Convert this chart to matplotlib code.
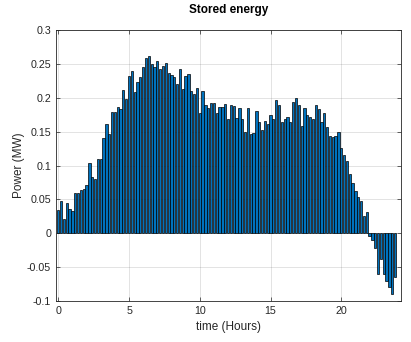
import numpy as np
import matplotlib
matplotlib.use('Agg')
import matplotlib.pyplot as plt

# stored energy, one bar every 0.2 h
hours = np.arange(120) * 0.2
power = [0.034, 0.047, 0.0205, 0.045, 0.0365, 0.033, 0.059, 0.059, 0.064, 0.065,
         0.071, 0.104, 0.0835, 0.0795, 0.109, 0.109, 0.140, 0.161, 0.147, 0.179,
         0.179, 0.186, 0.183, 0.211, 0.198, 0.232, 0.240, 0.208, 0.223, 0.231,
         0.246, 0.258, 0.261, 0.250, 0.245, 0.254, 0.242, 0.247, 0.252, 0.237,
         0.234, 0.230, 0.221, 0.243, 0.213, 0.232, 0.235, 0.210, 0.206, 0.215,
         0.178, 0.210, 0.189, 0.185, 0.192, 0.192, 0.178, 0.186, 0.186, 0.191,
         0.168, 0.189, 0.188, 0.170, 0.185, 0.169, 0.150, 0.185, 0.147, 0.148,
         0.180, 0.164, 0.152, 0.165, 0.161, 0.175, 0.169, 0.196, 0.190, 0.164,
         0.168, 0.171, 0.164, 0.194, 0.200, 0.190, 0.159, 0.185, 0.175, 0.171,
         0.169, 0.189, 0.184, 0.164, 0.177, 0.157, 0.144, 0.142, 0.143, 0.150,
         0.126, 0.115, 0.106, 0.087, 0.074, 0.062, 0.054, 0.047, 0.0255, 0.032,
         -0.004, -0.010, -0.022, -0.060, -0.038, -0.060, -0.071, -0.079, -0.089, -0.064]

xticks = [0, 5, 10, 15, 20]
yticks = [-0.1, -0.05, 0, 0.05, 0.1, 0.15, 0.2, 0.25, 0.3]
ytick_labels = ['-0.1', '-0.05', '0', '0.05', '0.1', '0.15', '0.2', '0.25', '0.3']

plt.rcParams['font.family'] = ['Liberation Sans', 'DejaVu Sans']
axcol = (0.15, 0.15, 0.15)

fig = plt.figure(figsize=(4.11, 3.42), dpi=100)
ax = fig.add_axes([56/411, 1-301/342, 345/411, 271/342])

ax.bar(hours, power, width=0.16, color='#0072BD', edgecolor='black', linewidth=0.5, zorder=3)

ax.set_xlim(-0.16, 24.22)
ax.set_ylim(-0.1, 0.3)
ax.set_xticks(xticks)
ax.set_yticks(yticks)
ax.set_yticklabels(ytick_labels)

ax.grid(True, color=axcol, alpha=0.15, linewidth=0.6, zorder=0)
ax.tick_params(direction='in', length=3, width=0.5, colors=axcol, labelsize=7.7,
               top=True, right=True, labelcolor=axcol)
for s in ax.spines.values():
    s.set_color(axcol)
    s.set_linewidth(0.6)

ax.set_title('Stored energy', fontsize=8.5, fontweight='bold', color='black', pad=12)
ax.set_xlabel('time (Hours)', fontsize=8.5, color=axcol, labelpad=4)
ax.set_ylabel('Power (MW)', fontsize=8.5, color=axcol, labelpad=1.5)

fig.savefig('out.png', dpi=100)
